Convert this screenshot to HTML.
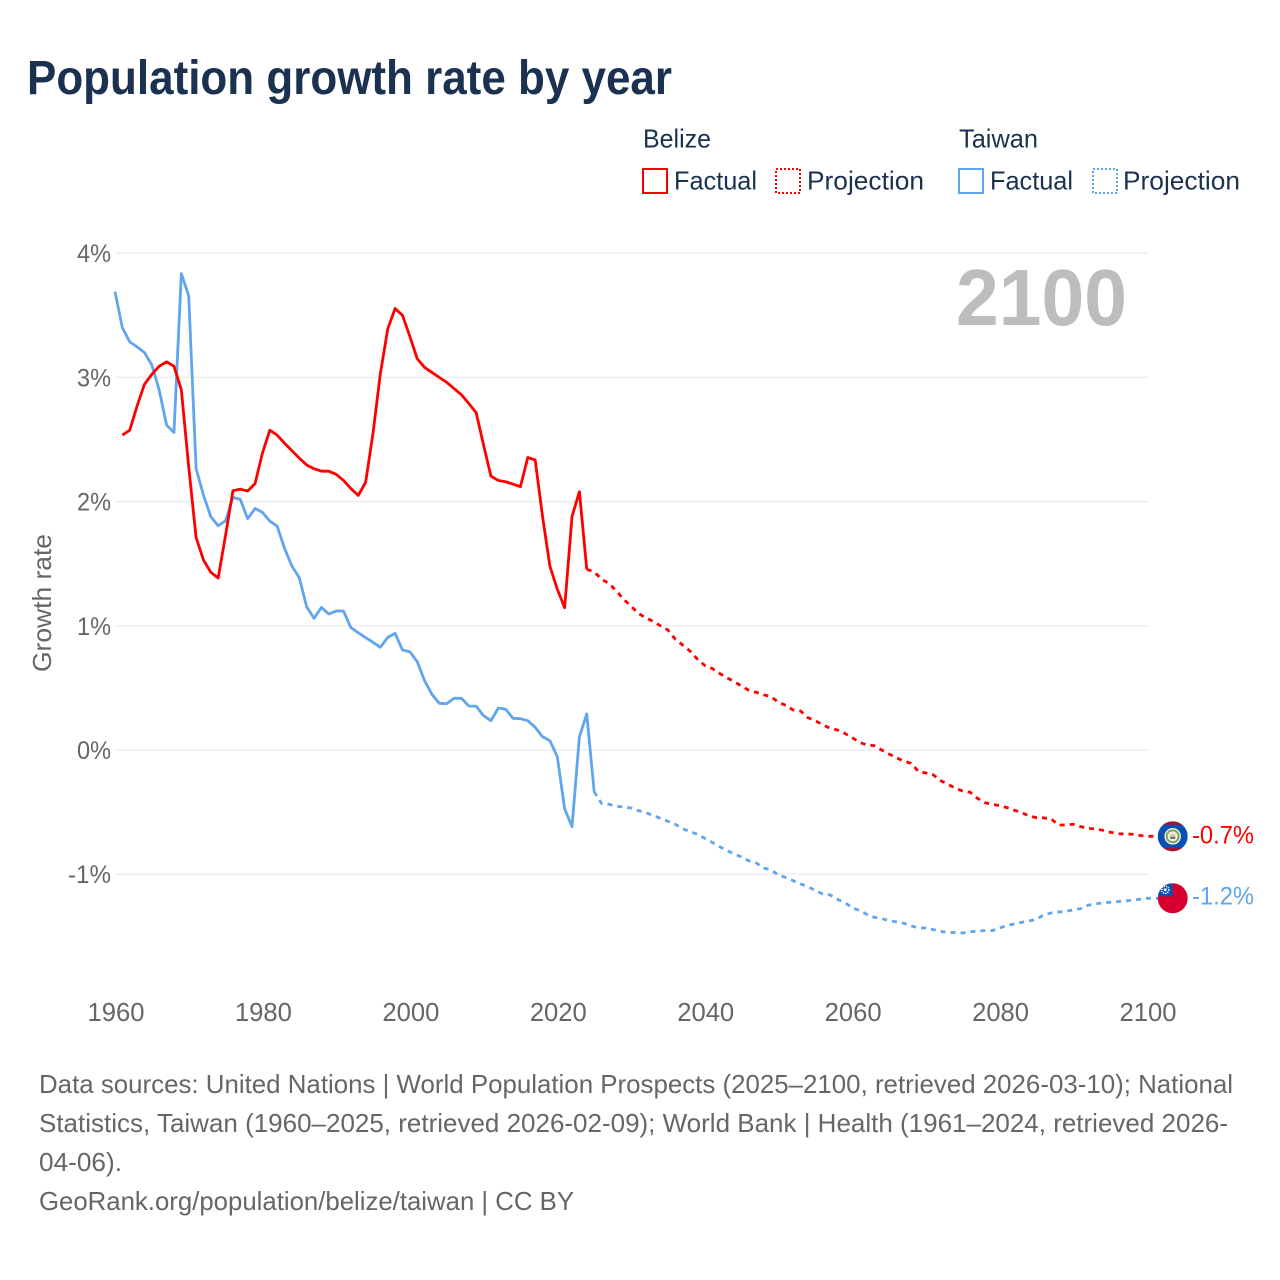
<!DOCTYPE html>
<html lang="en">
<head>
<meta charset="utf-8">
<title>Population growth rate by year</title>
<style>
html,body{margin:0;padding:0;background:#fff;}
svg{display:block;}
text{font-family:"Liberation Sans",sans-serif;}
</style>
</head>
<body>
<svg id="chart" xmlns="http://www.w3.org/2000/svg" width="1280" height="1280" viewBox="0 0 1280 1280">
  <rect x="0" y="0" width="1280" height="1280" fill="#ffffff"/>
  <text x="27" y="94" font-size="48" font-weight="700" fill="#1a3150" textLength="645" lengthAdjust="spacingAndGlyphs">Population growth rate by year</text>

  <g>
    <text x="643" y="147.5" font-size="26" fill="#1a3150" textLength="68" lengthAdjust="spacingAndGlyphs">Belize</text>
    <text x="959" y="147.5" font-size="26" fill="#1a3150" textLength="79" lengthAdjust="spacingAndGlyphs">Taiwan</text>
    <rect x="643" y="169" width="24" height="24" fill="none" stroke="#ff0000" stroke-width="2"/>
    <text x="674" y="189.5" font-size="26" fill="#1a3150" textLength="83" lengthAdjust="spacingAndGlyphs">Factual</text>
    <rect x="776" y="169" width="24" height="24" fill="none" stroke="#ff0000" stroke-width="2" stroke-dasharray="2 2"/>
    <text x="807" y="189.5" font-size="26" fill="#1a3150" textLength="117" lengthAdjust="spacingAndGlyphs">Projection</text>
    <rect x="959" y="169" width="24" height="24" fill="none" stroke="#60a5ee" stroke-width="2"/>
    <text x="990" y="189.5" font-size="26" fill="#1a3150" textLength="83" lengthAdjust="spacingAndGlyphs">Factual</text>
    <rect x="1093" y="169" width="24" height="24" fill="none" stroke="#60a5ee" stroke-width="2" stroke-dasharray="2 2"/>
    <text x="1123" y="189.5" font-size="26" fill="#1a3150" textLength="117" lengthAdjust="spacingAndGlyphs">Projection</text>
  </g>

  <g id="grid"></g>
  <g id="y-axis"></g>
  <g id="x-axis"></g>
  <text transform="translate(51 672) rotate(-90)" x="0" y="0" font-size="25.6" fill="#666666" textLength="138" lengthAdjust="spacingAndGlyphs">Growth rate</text>
  <text x="956" y="325" font-size="80" font-weight="700" fill="#bdbdbd" textLength="171" lengthAdjust="spacingAndGlyphs">2100</text>

  <g id="series"></g>

  <defs>
    <clipPath id="flag-clip"><circle cx="0" cy="0" r="15"/></clipPath>
  </defs>
  <g id="flag-belize">
    <g clip-path="url(#flag-clip)">
      <rect x="-15" y="-15" width="30" height="30" fill="#0a50b4"/>
      <rect x="-15" y="-15" width="30" height="3.5" fill="#a3142f"/>
      <rect x="-15" y="11.5" width="30" height="3.5" fill="#a3142f"/>
      <circle cx="0" cy="0" r="8.3" fill="#f2f2ea"/>
      <circle cx="0" cy="0" r="6" fill="none" stroke="#7da956" stroke-width="2"/>
      <circle cx="0" cy="0" r="3" fill="#e9cf7a"/>
      <rect x="-2.5" y="0.5" width="5" height="2" fill="#4a6aa0"/>
    </g>
  </g>
  <g id="flag-taiwan">
    <g clip-path="url(#flag-clip)">
      <rect x="-15" y="-15" width="30" height="30" fill="#d7002c"/>
      <rect x="-15" y="-15" width="15" height="13" fill="#0a50b4"/>
      <circle cx="-7.5" cy="-8.5" r="3.6" fill="none" stroke="#ffffff" stroke-width="1.6" stroke-dasharray="1.2 1"/>
      <circle cx="-7.5" cy="-8.5" r="1.5" fill="#ffffff"/>
    </g>
  </g>
  <g id="end-labels"></g>

  <g>
    <text x="39" y="1093" font-size="26" fill="#666666" textLength="1194" lengthAdjust="spacingAndGlyphs">Data sources: United Nations | World Population Prospects (2025–2100, retrieved 2026-03-10); National</text>
    <text x="39" y="1132" font-size="26" fill="#666666" textLength="1189" lengthAdjust="spacingAndGlyphs">Statistics, Taiwan (1960–2025, retrieved 2026-02-09); World Bank | Health (1961–2024, retrieved 2026-</text>
    <text x="39" y="1171" font-size="26" fill="#666666" textLength="83" lengthAdjust="spacingAndGlyphs">04-06).</text>
    <text x="39" y="1210" font-size="26" fill="#666666" textLength="535" lengthAdjust="spacingAndGlyphs">GeoRank.org/population/belize/taiwan | CC BY</text>
  </g>
</svg>

<script>
const xTicks = [1960, 1980, 2000, 2020, 2040, 2060, 2080, 2100];
const yTicks = [4, 3, 2, 1, 0, -1];
const yTickLabels = ['4%', '3%', '2%', '1%', '0%', '-1%'];

const belizeFactualStart = 1961;
const belizeFactual = [
  2.535, 2.575, 2.77, 2.945, 3.025, 3.09, 3.125, 3.09, 2.90, 2.28,
  1.71, 1.53, 1.43, 1.385, 1.73, 2.087, 2.10, 2.085, 2.145, 2.39,
  2.575, 2.535, 2.47, 2.41, 2.35, 2.295, 2.265, 2.245, 2.245, 2.22,
  2.17, 2.105, 2.05, 2.155, 2.55, 3.03, 3.39, 3.555, 3.50, 3.33,
  3.15, 3.08, 3.04, 3.00, 2.96, 2.91, 2.86, 2.79, 2.715, 2.455,
  2.205, 2.17, 2.16, 2.14, 2.12, 2.355, 2.335, 1.88, 1.48, 1.295,
  1.145, 1.88, 2.08, 1.455
];
const belizeProjectionStart = 2024;
const belizeProjection = [
  1.455, 1.435, 1.376, 1.341, 1.282, 1.213, 1.159, 1.10, 1.065, 1.035,
  1.00, 0.966, 0.893, 0.845, 0.797, 0.732, 0.681, 0.657, 0.617, 0.582,
  0.55, 0.515, 0.48, 0.464, 0.445, 0.429, 0.384, 0.36, 0.322, 0.314,
  0.26, 0.236, 0.204, 0.175, 0.161, 0.134, 0.099, 0.062, 0.04, 0.035,
  0.0, -0.032, -0.062, -0.089, -0.107, -0.174, -0.185, -0.20, -0.247, -0.276,
  -0.308, -0.33, -0.34, -0.389, -0.424, -0.437, -0.448, -0.464, -0.485, -0.504,
  -0.531, -0.545, -0.547, -0.555, -0.604, -0.604, -0.598, -0.617, -0.63, -0.636,
  -0.646, -0.662, -0.674, -0.676, -0.678, -0.687, -0.695
];

const taiwanFactualStart = 1960;
const taiwanFactual = [
  3.69, 3.40, 3.286, 3.246, 3.20, 3.10, 2.897, 2.616, 2.557, 3.836,
  3.656, 2.267, 2.052, 1.878, 1.805, 1.846, 2.034, 2.017, 1.862, 1.945,
  1.913, 1.843, 1.803, 1.623, 1.481, 1.387, 1.153, 1.06, 1.148, 1.095,
  1.119, 1.119, 0.985, 0.944, 0.904, 0.867, 0.827, 0.907, 0.939, 0.805,
  0.791, 0.711, 0.558, 0.448, 0.376, 0.373, 0.416, 0.416, 0.354, 0.352,
  0.276, 0.236, 0.338, 0.328, 0.255, 0.252, 0.236, 0.183, 0.107, 0.075,
  -0.054, -0.475, -0.617, 0.107, 0.29, -0.335
];
const taiwanProjectionStart = 2025;
const taiwanProjection = [
  -0.335, -0.43, -0.437, -0.453, -0.459, -0.467, -0.488, -0.505, -0.526, -0.55,
  -0.574, -0.598, -0.633, -0.657, -0.679, -0.711, -0.743, -0.778, -0.81, -0.837,
  -0.861, -0.893, -0.91, -0.95, -0.966, -1.006, -1.027, -1.052, -1.078, -1.10,
  -1.132, -1.159, -1.167, -1.202, -1.229, -1.269, -1.293, -1.323, -1.347, -1.358,
  -1.374, -1.384, -1.395, -1.416, -1.433, -1.433, -1.446, -1.46, -1.47, -1.47,
  -1.473, -1.465, -1.457, -1.454, -1.454, -1.433, -1.414, -1.40, -1.387, -1.376,
  -1.363, -1.328, -1.312, -1.304, -1.298, -1.288, -1.277, -1.25, -1.239, -1.231,
  -1.226, -1.221, -1.215, -1.21, -1.202, -1.194
];
const endValueLabels = ['-0.7%', '-1.2%'];

const SVG_NS = 'http://www.w3.org/2000/svg';
const BELIZE_COLOR = '#ff0000';
const TAIWAN_COLOR = '#60a5ee';

function xScale(year) {
  return 116 + (year - 1960) * (1148 - 116) / 140;
}
function lineX(year) {
  return xScale(year) - 1;
}
function yScale(value) {
  return 750 - value * 124.2;
}
function pathFor(values, startYear) {
  return values.map(function (v, i) {
    return (i ? 'L' : 'M') + lineX(startYear + i).toFixed(2) + ' ' + yScale(v).toFixed(2);
  }).join(' ');
}
function makeSvg(tag, parentId) {
  const el = document.createElementNS(SVG_NS, tag);
  document.getElementById(parentId).appendChild(el);
  return el;
}

yTicks.forEach(function (tick, i) {
  const line = makeSvg('line', 'grid');
  
  
  line.setAttribute('x1', xScale(1960));
  line.setAttribute('x2', xScale(2100));
  line.setAttribute('y1', yScale(tick));
  line.setAttribute('y2', yScale(tick));
  line.setAttribute('stroke', '#eeeeee');
  line.setAttribute('stroke-width', '1.5');

  const label = makeSvg('text', 'y-axis');
  
  
  label.setAttribute('x', 111);
  label.setAttribute('y', yScale(tick) + 9);
  label.setAttribute('text-anchor', 'end');
  label.setAttribute('font-size', '25');
  label.setAttribute('fill', '#666666');
  label.setAttribute('textLength', yTickLabels[i].length > 2 ? '43' : '34');
  label.setAttribute('lengthAdjust', 'spacingAndGlyphs');
  label.textContent = yTickLabels[i];
});

xTicks.forEach(function (tick) {
  const label = makeSvg('text', 'x-axis');
  
  
  label.setAttribute('x', xScale(tick));
  label.setAttribute('y', 1021);
  label.setAttribute('text-anchor', 'middle');
  label.setAttribute('font-size', '25.6');
  label.setAttribute('fill', '#666666');
  label.textContent = String(tick);
});

const belizeProjectionLine = makeSvg('path', 'series');


belizeProjectionLine.setAttribute('d', pathFor(belizeProjection, belizeProjectionStart) + ' L1158 ' + yScale(belizeProjection[belizeProjection.length - 1]).toFixed(2));
belizeProjectionLine.setAttribute('fill', 'none');
belizeProjectionLine.setAttribute('stroke', BELIZE_COLOR);
belizeProjectionLine.setAttribute('stroke-width', '2.8');
belizeProjectionLine.setAttribute('stroke-dasharray', '5 5');

const taiwanProjectionLine = makeSvg('path', 'series');


taiwanProjectionLine.setAttribute('d', pathFor(taiwanProjection, taiwanProjectionStart) + ' L1158 ' + yScale(taiwanProjection[taiwanProjection.length - 1]).toFixed(2));
taiwanProjectionLine.setAttribute('fill', 'none');
taiwanProjectionLine.setAttribute('stroke', TAIWAN_COLOR);
taiwanProjectionLine.setAttribute('stroke-width', '2.8');
taiwanProjectionLine.setAttribute('stroke-dasharray', '5 5');

const taiwanFactualLine = makeSvg('path', 'series');


taiwanFactualLine.setAttribute('d', pathFor(taiwanFactual, taiwanFactualStart));
taiwanFactualLine.setAttribute('fill', 'none');
taiwanFactualLine.setAttribute('stroke', TAIWAN_COLOR);
taiwanFactualLine.setAttribute('stroke-width', '2.8');
taiwanFactualLine.setAttribute('stroke-linejoin', 'round');

const belizeFactualLine = makeSvg('path', 'series');


belizeFactualLine.setAttribute('d', pathFor(belizeFactual, belizeFactualStart));
belizeFactualLine.setAttribute('fill', 'none');
belizeFactualLine.setAttribute('stroke', BELIZE_COLOR);
belizeFactualLine.setAttribute('stroke-width', '2.8');
belizeFactualLine.setAttribute('stroke-linejoin', 'round');

const belizeEndY = yScale(belizeProjection[belizeProjection.length - 1]);
const taiwanEndY = yScale(taiwanProjection[taiwanProjection.length - 1]);
document.getElementById('flag-belize').setAttribute('transform', 'translate(1172.7 ' + belizeEndY.toFixed(2) + ')');
document.getElementById('flag-taiwan').setAttribute('transform', 'translate(1172.7 ' + taiwanEndY.toFixed(2) + ')');

const belizeEndLabel = makeSvg('text', 'end-labels');


belizeEndLabel.setAttribute('x', 1192);
belizeEndLabel.setAttribute('y', belizeEndY + 7);
belizeEndLabel.setAttribute('font-size', '25');
belizeEndLabel.setAttribute('fill', BELIZE_COLOR);
belizeEndLabel.setAttribute('textLength', '62');
belizeEndLabel.setAttribute('lengthAdjust', 'spacingAndGlyphs');
belizeEndLabel.textContent = endValueLabels[0];

const taiwanEndLabel = makeSvg('text', 'end-labels');


taiwanEndLabel.setAttribute('x', 1192);
taiwanEndLabel.setAttribute('y', taiwanEndY + 6);
taiwanEndLabel.setAttribute('font-size', '25');
taiwanEndLabel.setAttribute('fill', TAIWAN_COLOR);
taiwanEndLabel.setAttribute('textLength', '62');
taiwanEndLabel.setAttribute('lengthAdjust', 'spacingAndGlyphs');
taiwanEndLabel.textContent = endValueLabels[1];
</script>
</body>
</html>
